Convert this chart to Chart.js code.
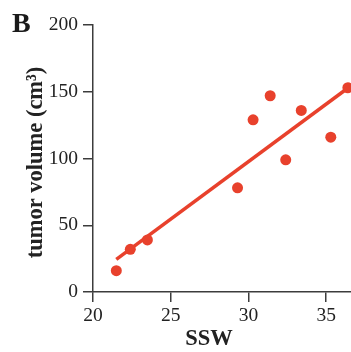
<!DOCTYPE html>
<html>
<head>
<meta charset="utf-8">
<script src="https://cdn.jsdelivr.net/npm/chart.js@4/dist/chart.umd.min.js"></script>
<style>
  html, body { margin: 0; padding: 0; background: #fff; }
  #wrap { position: relative; width: 351px; height: 352px; overflow: hidden; }
  #panel { position: absolute; left: 12px; top: 9px; font-family: 'Liberation Serif', 'Times New Roman', serif; font-weight: bold; font-size: 28px; line-height: 28px; color: #1a1a1a; }
</style>
</head>
<body>
<div id="wrap">
  <canvas id="c" width="351" height="352"></canvas>
  <div id="panel">B</div>
</div>
<script>
// ---- data ----
const ssw = [21.5, 22.4, 23.5, 29.3, 30.3, 31.4, 32.4, 33.4, 35.3, 36.4];
const tumorVolume = [16, 32, 39, 78, 129, 147, 99, 136, 116, 153];
const fitX = [21.5, 36.6];
const fitY = [24.5, 154.5];
const xTicks = [20, 25, 30, 35];
const yTicks = [0, 50, 100, 150, 200];
const xTitle = 'SSW';
const yTitle = 'tumor volume (cm³)';

const red = '#E8412C';
const axisColor = '#3c3c3c';
const serif = "'Liberation Serif', 'Times New Roman', serif";

const points = ssw.map((x, i) => ({ x: x, y: tumorVolume[i] }));
const fitLine = fitX.map((x, i) => ({ x: x, y: fitY[i] }));

// shift an axis title by a few pixels (reference titles are not exactly centred)
function shiftTitle(scale, dx, dy) {
  if (scale._titleShifted) return;
  const orig = scale.drawTitle;
  scale.drawTitle = function () {
    this.ctx.save();
    this.ctx.translate(dx, dy);
    orig.apply(this, arguments);
    this.ctx.restore();
  };
  scale._titleShifted = true;
}

new Chart(document.getElementById('c'), {
  type: 'scatter',
  data: {
    datasets: [
      { type: 'line', data: fitLine, borderColor: red, borderWidth: 3.5, pointRadius: 0, fill: false, clip: false, order: 2 },
      { type: 'scatter', data: points, backgroundColor: red, borderWidth: 0, pointRadius: 5.5, pointHoverRadius: 5.5, clip: false, order: 1 }
    ]
  },
  options: {
    responsive: false,
    devicePixelRatio: 1,
    animation: false,
    layout: { autoPadding: false, padding: { top: 25, right: 0, bottom: 0, left: 0 } },
    plugins: { legend: { display: false }, tooltip: { enabled: false } },
    scales: {
      x: {
        type: 'linear',
        min: 20,
        max: 36.6,
        afterFit: s => { s.height = 60; s.paddingLeft = 0; s.paddingRight = 0; shiftTitle(s, -13, 2); },
        afterBuildTicks: s => { s.ticks = xTicks.map(v => ({ value: v })); },
        ticks: { includeBounds: false, padding: 2, color: '#222', font: { family: serif, size: 19.5 } },
        grid: { drawOnChartArea: false, drawTicks: true, tickLength: 10, color: axisColor, lineWidth: 1.5 },
        border: { display: true, color: axisColor, width: 1.5 },
        title: { display: true, text: xTitle, color: '#222', font: { family: serif, size: 22.5, weight: 'bold' }, padding: { top: 0, bottom: 1 } }
      },
      y: {
        type: 'linear',
        min: 0,
        max: 200,
        afterFit: s => { s.width = 93; s.paddingTop = 0; s.paddingBottom = 0; shiftTitle(s, 0, 4); },
        afterBuildTicks: s => { s.ticks = yTicks.map(v => ({ value: v })); },
        ticks: { includeBounds: false, padding: 5, color: '#222', font: { family: serif, size: 19.5 } },
        grid: { drawOnChartArea: false, drawTicks: true, tickLength: 10, color: axisColor, lineWidth: 1.5 },
        border: { display: true, color: axisColor, width: 1.5 },
        title: { display: true, text: yTitle, color: '#222', font: { family: serif, size: 22.5, weight: 'bold' }, padding: { top: 23, bottom: 0 } }
      }
    }
  }
});
</script>
</body>
</html>
